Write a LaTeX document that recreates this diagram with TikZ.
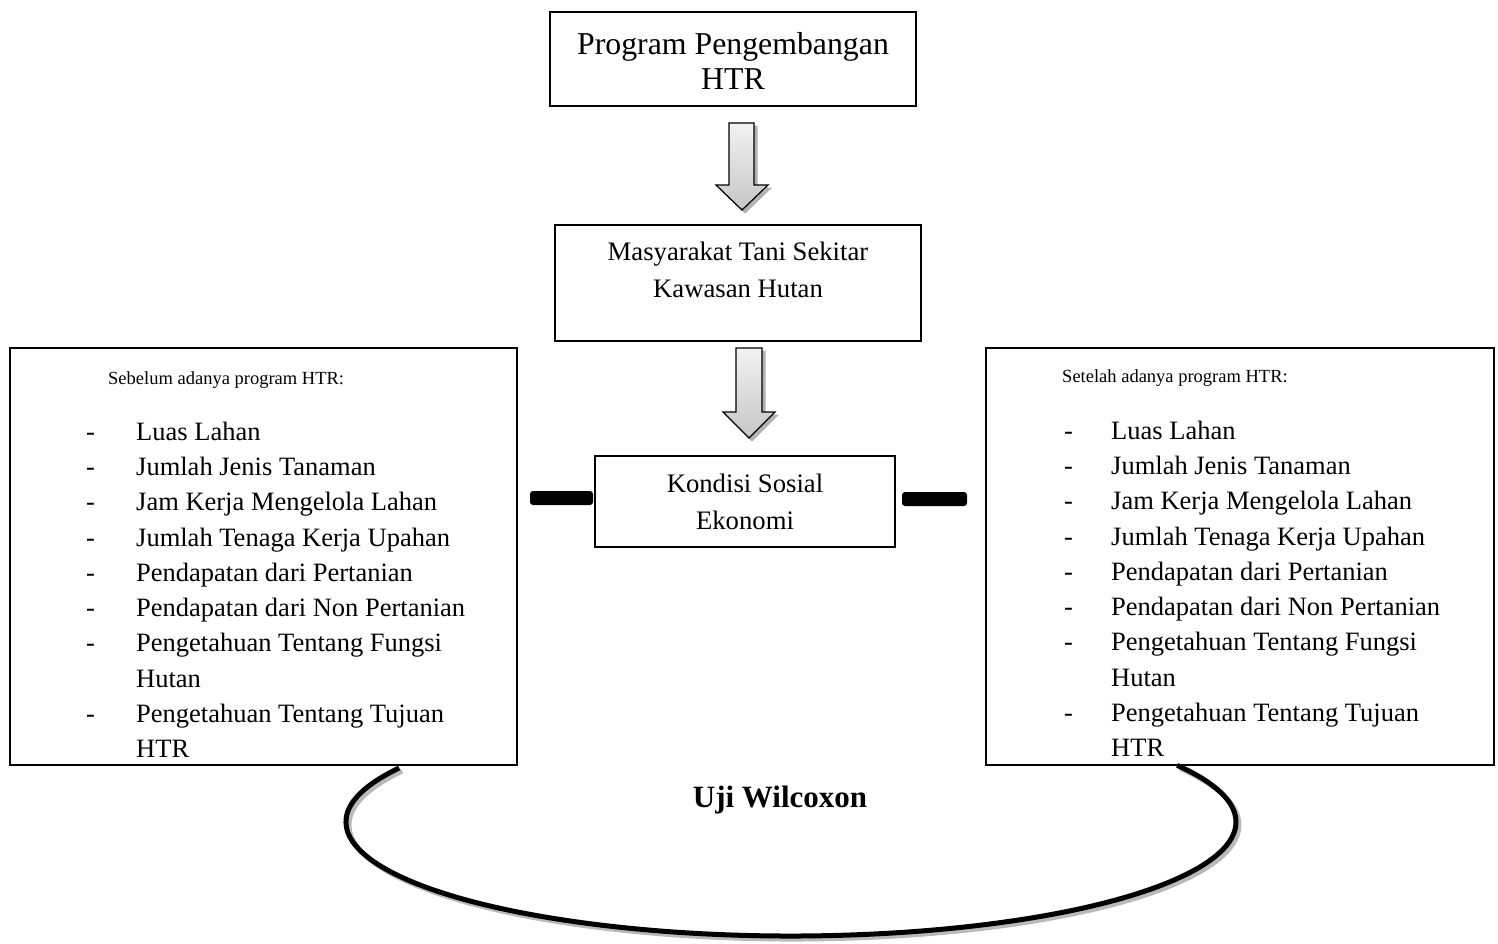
\documentclass[tikz,border=0pt]{standalone}
\usepackage{fontspec}
\setmainfont{Liberation Serif}
\begin{document}
\begin{tikzpicture}[x=1pt,y=-1pt,
  box/.style={draw, line width=1.5pt, inner sep=0pt, fill=white},
  big/.style={anchor=base, inner sep=0pt, font=\fontsize{31.8}{36}\selectfont},
  mid/.style={anchor=base, inner sep=0pt, font=\fontsize{26.7}{32}\selectfont},
  lst/.style={anchor=base west, inner sep=0pt, font=\fontsize{26.5}{32}\selectfont},
  hdr/.style={anchor=base west, inner sep=0pt, font=\fontsize{18.5}{22}\selectfont},
  blockarrow/.style={top color=gray!10, bottom color=gray!45, draw=black, line width=1.2pt, line join=miter},
  arrowshadow/.style={fill=gray!60, draw=gray!60, line width=1pt},
  bar/.style={fill=black, rounded corners=3pt},
]
\useasboundingbox (0,0) rectangle (1498,943);

% top box
\node[box, minimum width=366, minimum height=94] (prog) at (733,59) {};
\node[big] (progA) at (733,54) {Program Pengembangan};
\node[big] (progB) at (733,89) {HTR};

% arrow 1
\fill[arrowshadow] (732,126) -- (757,126) -- (757,188) -- (771,188) -- (745,213) -- (719,188) -- (732,188) -- cycle;
\shade[blockarrow] (729,123) -- (754,123) -- (754,185) -- (768,185) -- (742,210) -- (716,185) -- (729,185) -- cycle;

% masyarakat box
\node[box, minimum width=366, minimum height=116] (masy) at (738,283) {};
\node[mid] (masyA) at (738,260) {Masyarakat Tani Sekitar};
\node[mid] (masyB) at (738,297) {Kawasan Hutan};

% arrow 2
\fill[arrowshadow] (739,351) -- (765,351) -- (765,415) -- (778,415) -- (752,441) -- (726,415) -- (739,415) -- cycle;
\shade[blockarrow] (736,348) -- (762,348) -- (762,412) -- (775,412) -- (749,438) -- (723,412) -- (736,412) -- cycle;

% kondisi box
\node[box, minimum width=300, minimum height=91] (kond) at (745,501.5) {};
\node[mid] (kondA) at (745,492) {Kondisi Sosial};
\node[mid] (kondB) at (745,529) {Ekonomi};

% bars
\fill[bar] (530,491) rectangle (593,505);
\fill[bar] (902,492) rectangle (967,506);

% left box
\node[box, minimum width=507, minimum height=417] (left) at (263.5,556.5) {};
\node[hdr] (lh) at (108,384) {Sebelum adanya program HTR:};
% right box
\node[box, minimum width=508, minimum height=417] (right) at (1240,556.5) {};
\node[hdr] (rh) at (1062,382) {Setelah adanya program HTR:};

\foreach \y/\t/\d [count=\i] in {440/Luas Lahan/1, 475/Jumlah Jenis Tanaman/1, 510/Jam Kerja Mengelola Lahan/1, 546/Jumlah Tenaga Kerja Upahan/1, 581/Pendapatan dari Pertanian/1, 616/Pendapatan dari Non Pertanian/1, 651/Pengetahuan Tentang Fungsi/1, 687/Hutan/0, 722/Pengetahuan Tentang Tujuan/1, 757/HTR/0} {
  \node[lst] (L\i) at (136,\y) {\t};
  \node[lst] (R\i) at (1111,\y-1) {\t};
  \ifnum\d=1
    \node[lst] (Ld\i) at (86,\y) {-};
    \node[lst] (Rd\i) at (1064,\y-1) {-};
  \fi
}

% Wilcoxon ellipse
\draw[gray!55, line width=5pt] (794,825) ++(208.3:445 and 114) arc[start angle=208.3, end angle=-29.8, x radius=445, y radius=114];
\draw[black, line width=5pt] (791,822) ++(208.3:445 and 114) arc[start angle=208.3, end angle=-29.8, x radius=445, y radius=114];
\node[anchor=base, inner sep=0pt, font=\fontsize{31}{36}\selectfont\bfseries] (uji) at (780,807) {Uji Wilcoxon};
\end{tikzpicture}
\end{document}
